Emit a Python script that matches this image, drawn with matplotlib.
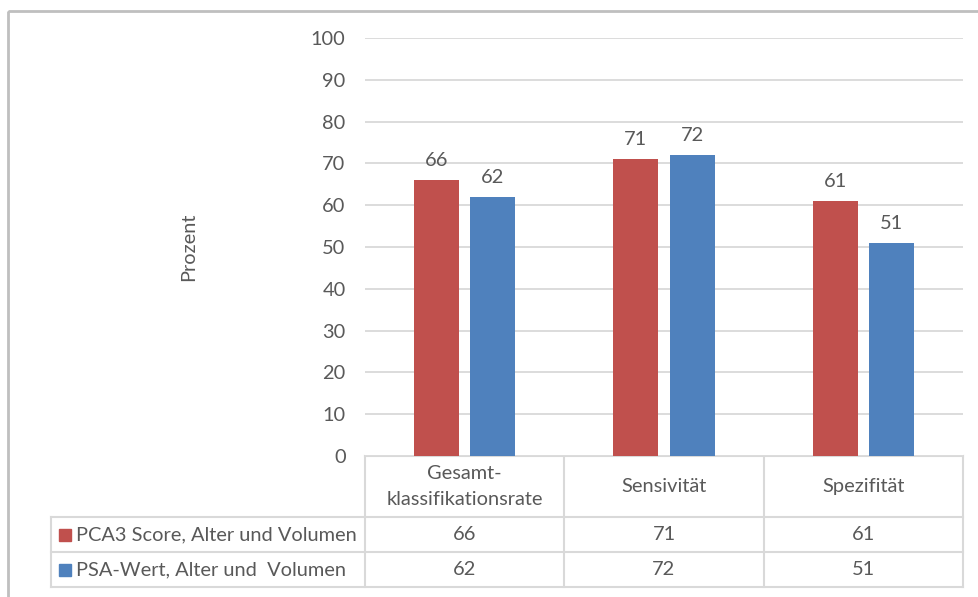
import matplotlib
matplotlib.use("Agg")
import matplotlib.pyplot as plt
from matplotlib.patches import Rectangle
import numpy as np

# Data
categories = ["Gesamt-\nklassifikationsrate", "Sensivität", "Spezifität"]
series_names = ["PCA3 Score, Alter und Volumen", "PSA-Wert, Alter und  Volumen"]
pca3_values = [66, 71, 61]
psa_values = [62, 72, 51]
y_ticks = [0, 10, 20, 30, 40, 50, 60, 70, 80, 90, 100]

colors = ["#C0504D", "#4F81BD"]
text_color = "#595959"
grid_color = "#D9D9D9"
FONT = ["Lato", "DejaVu Sans"]
FS = 14.4
plt.rcParams["font.family"] = FONT

W, H = 979, 597
fig = plt.figure(figsize=(W / 100, H / 100), dpi=100)

# Plot area in pixel layout
px_left, px_right, px_top, px_bottom = 365, 963, 38, 456
ax = fig.add_axes([px_left / W, 1 - px_bottom / H,
                   (px_right - px_left) / W, (px_bottom - px_top) / H])

x = np.arange(len(categories))
bar_w = 0.226
offset = 0.142
series = [pca3_values, psa_values]
for i, vals in enumerate(series):
    pos = x + (i - 0.5) * 2 * offset
    bars = ax.bar(pos, vals, width=bar_w, color=colors[i], zorder=3)
    for b, v in zip(bars, vals):
        ax.annotate(f"{v}", (b.get_x() + b.get_width() / 2, v),
                    xytext=(0, 8), textcoords="offset points",
                    ha="center", va="bottom", fontsize=FS, color=text_color)

ax.set_xlim(-0.5, len(categories) - 0.5)
ax.set_ylim(0, 100)
ax.set_yticks(y_ticks)
ax.set_yticklabels([str(t) for t in y_ticks], fontsize=FS, color=text_color)
ax.tick_params(axis="y", length=0, pad=14)
ax.set_xticks([])
ax.grid(axis="y", color=grid_color, linewidth=1.3, zorder=0)
for s in ax.spines.values():
    s.set_visible(False)
ax.set_ylabel("Prozent", fontsize=FS, color=text_color, labelpad=0)
ax.yaxis.set_label_coords((197 - px_left) / (px_right - px_left), 0.5)

# Data table drawn in pixel coordinates
tab = fig.add_axes([0, 0, 1, 1], zorder=-1)
tab.set_xlim(0, W)
tab.set_ylim(H, 0)
tab.axis("off")

col_edges = np.linspace(px_left, px_right, len(categories) + 1)
row_edges = [456, 517, 552, 587]
legend_left = 51
lw = 1.5
# horizontal lines
tab.plot([px_left, px_right], [row_edges[0]] * 2, color=grid_color, lw=lw)
for r in row_edges[1:]:
    tab.plot([legend_left, px_right], [r, r], color=grid_color, lw=lw)
# vertical lines
for c in col_edges:
    tab.plot([c, c], [row_edges[0], row_edges[-1]], color=grid_color, lw=lw)
tab.plot([legend_left, legend_left], [row_edges[1], row_edges[-1]], color=grid_color, lw=lw)

# header cells
for j, cat in enumerate(categories):
    cx = (col_edges[j] + col_edges[j + 1]) / 2
    cy = (row_edges[0] + row_edges[1]) / 2
    tab.text(cx, cy, cat, ha="center", va="center", fontsize=FS,
             color=text_color, linespacing=1.6)

# series rows
for i, (name, vals) in enumerate(zip(series_names, series)):
    cy = (row_edges[i + 1] + row_edges[i + 2]) / 2
    tab.add_patch(Rectangle((59, cy - 5.5), 12, 12, color=colors[i]))
    tab.text(76, cy, name, ha="left", va="center", fontsize=FS, color=text_color)
    for j, v in enumerate(vals):
        cx = (col_edges[j] + col_edges[j + 1]) / 2
        tab.text(cx, cy, f"{v}", ha="center", va="center", fontsize=FS, color=text_color)

# chart frame
tab.add_patch(Rectangle((8, 11), 2000, 2000, fill=False, edgecolor="#BFBFBF", lw=2))

fig.savefig("out.png", dpi=100, facecolor="white")
